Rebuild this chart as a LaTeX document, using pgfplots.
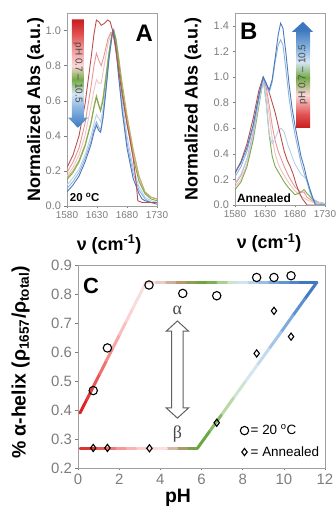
\documentclass[border=0pt]{standalone}
\usepackage{fontspec}
\setmainfont{Liberation Sans}
\newfontfamily\seriffont{Liberation Serif}
\usepackage{pgfplots}
\pgfplotsset{compat=1.18}

\definecolor{cA1}{RGB}{185,80,78}
\definecolor{cA2}{RGB}{230,150,150}
\definecolor{cA3}{RGB}{242,195,195}
\definecolor{cA4}{RGB}{190,180,95}
\definecolor{cA5}{RGB}{122,170,80}
\definecolor{cA6}{RGB}{185,208,235}
\definecolor{cA7}{RGB}{140,180,222}
\definecolor{cA8}{RGB}{75,120,185}
\definecolor{axgray}{RGB}{160,160,160}
\definecolor{tickgray}{RGB}{125,125,125}
\definecolor{txtgray}{RGB}{70,70,70}

\definecolor{sdr}{RGB}{200,30,30}
\definecolor{sr}{RGB}{225,80,80}
\definecolor{sp}{RGB}{240,150,150}
\definecolor{spp}{RGB}{250,215,215}
\definecolor{sg}{RGB}{115,170,70}
\definecolor{spb}{RGB}{215,230,245}
\definecolor{slb}{RGB}{145,187,228}
\definecolor{sb}{RGB}{60,120,190}

\pgfdeclareverticalshading{phA}{100bp}{color(0bp)=(sb); color(25bp)=(sb); color(35bp)=(slb); color(40.7bp)=(spb); color(47.2bp)=(sg); color(53.7bp)=(spp); color(61.8bp)=(sp); color(68.3bp)=(sr); color(75bp)=(sdr); color(100bp)=(sdr)}
\pgfdeclareverticalshading{phB}{100bp}{color(0bp)=(sdr); color(25bp)=(sdr); color(31.2bp)=(sr); color(40.6bp)=(spp); color(48.6bp)=(sg); color(56.1bp)=(spb); color(61.7bp)=(slb); color(71.3bp)=(sb); color(100bp)=(sb)}

\pgfplotsset{colormap={gradC}{rgb255(0cm)=(220,30,30) rgb255(12cm)=(235,90,90) rgb255(25cm)=(245,150,150) rgb255(40cm)=(252,215,215) rgb255(46cm)=(250,225,225) rgb255(55cm)=(190,150,120) rgb255(65cm)=(100,165,55) rgb255(72cm)=(200,225,185) rgb255(78cm)=(215,230,245) rgb255(86cm)=(150,190,230) rgb255(100cm)=(55,115,190)}}

\pgfplotsset{
  onemark/.style={legend image code/.code={\draw[##1] plot coordinates {(0.05cm,0cm)};}},
  myax/.style={
    scale only axis,
    axis line style={axgray},
    tick style={tickgray, thin},
    tick align=outside,
    major tick length=2.5bp,
    tick pos=left,
    /pgf/number format/assume math mode=true,
    /pgf/number format/1000 sep={},
    every tick label/.append style={text=tickgray},
  },
  specax/.style={
    myax, width=90bp,
    xmin=1580, xmax=1730,
    xtick={1580,1630,1680,1730},
    xticklabel style={font=\fontsize{10}{11}\selectfont},
    yticklabel style={font=\fontsize{11}{12}\selectfont, /pgf/number format/.cd, fixed, fixed zerofill, precision=1},
    xlabel={\textbf{ν (cm\textsuperscript{-1})}},
    ylabel={\textbf{Normalized Abs (a.u.)}},
    label style={font=\fontsize{18}{20}\selectfont},
    every axis plot/.append style={line width=0.9pt, no marks},
  }
}

\begin{document}
\begin{tikzpicture}
\useasboundingbox (0,0) rectangle (336bp,509bp);

% ---------------- Panel A
\begin{axis}[specax, at={(67bp,303bp)}, anchor=south west, height=193bp,
  ymin=0, ymax=1.1, ytick={0,0.2,0.4,0.6,0.8,1.0},
  xlabel style={at={(axis description cs:0.467,-0.2)}, anchor=center},
  ylabel style={at={(axis description cs:-0.35,0.5)}, anchor=center},
]
\addplot[cA6] coordinates {(1580,0.12) (1590,0.16) (1600,0.21) (1610,0.29) (1620,0.40) (1625,0.47) (1629,0.52) (1633,0.50) (1636,0.48) (1640,0.55) (1645,0.69) (1650,0.85) (1655,0.97) (1658,1.0) (1662,0.93) (1667,0.77) (1672,0.60) (1680,0.40) (1690,0.22) (1700,0.11) (1710,0.05) (1720,0.03) (1730,0.02)};
\addplot[cA7] coordinates {(1580,0.10) (1590,0.14) (1600,0.19) (1610,0.27) (1620,0.37) (1625,0.44) (1629,0.48) (1633,0.45) (1636,0.43) (1640,0.51) (1645,0.67) (1650,0.84) (1655,0.97) (1657,1.0) (1661,0.93) (1666,0.75) (1672,0.56) (1680,0.36) (1690,0.19) (1700,0.09) (1710,0.04) (1720,0.02) (1730,0.02)};
\addplot[cA3] coordinates {(1580,0.17) (1590,0.22) (1600,0.29) (1610,0.40) (1620,0.57) (1625,0.66) (1629,0.72) (1633,0.70) (1637,0.70) (1642,0.80) (1648,0.92) (1653,0.98) (1657,0.97) (1662,0.88) (1667,0.76) (1672,0.64) (1680,0.47) (1690,0.30) (1700,0.15) (1710,0.07) (1720,0.05) (1730,0.04)};
\addplot[cA2] coordinates {(1580,0.19) (1590,0.25) (1600,0.33) (1610,0.47) (1620,0.68) (1625,0.80) (1629,0.87) (1633,0.83) (1637,0.80) (1642,0.86) (1648,0.95) (1653,0.99) (1657,0.98) (1662,0.90) (1667,0.78) (1672,0.66) (1680,0.50) (1690,0.32) (1700,0.17) (1710,0.08) (1720,0.05) (1730,0.04)};
\addplot[cA4] coordinates {(1580,0.16) (1590,0.20) (1600,0.26) (1610,0.35) (1620,0.48) (1625,0.57) (1629,0.63) (1633,0.58) (1636,0.55) (1640,0.62) (1645,0.75) (1650,0.88) (1655,0.98) (1658,1.0) (1662,0.95) (1667,0.83) (1672,0.70) (1680,0.52) (1690,0.33) (1700,0.17) (1710,0.08) (1720,0.05) (1730,0.04)};
\addplot[cA5] coordinates {(1580,0.15) (1590,0.19) (1600,0.25) (1610,0.34) (1620,0.47) (1625,0.56) (1629,0.62) (1633,0.57) (1636,0.54) (1640,0.60) (1645,0.73) (1650,0.87) (1655,0.98) (1658,1.0) (1662,0.94) (1667,0.80) (1672,0.66) (1680,0.47) (1690,0.28) (1700,0.14) (1710,0.07) (1720,0.04) (1730,0.03)};
\addplot[cA8] coordinates {(1580,0.08) (1590,0.12) (1600,0.17) (1610,0.25) (1620,0.35) (1625,0.42) (1629,0.46) (1633,0.43) (1636,0.42) (1640,0.50) (1645,0.66) (1650,0.84) (1655,0.97) (1657,1.0) (1661,0.92) (1666,0.74) (1672,0.54) (1680,0.33) (1690,0.16) (1700,0.07) (1705,0.04) (1710,0.03) (1720,0.02) (1730,0.01)};
\addplot[cA1] coordinates {(1580,0.22) (1590,0.29) (1600,0.40) (1610,0.58) (1620,0.84) (1625,0.98) (1629,1.06) (1633,1.05) (1637,1.03) (1642,1.04) (1648,1.06) (1652,1.05) (1656,1.0) (1660,0.92) (1665,0.80) (1670,0.68) (1675,0.57) (1680,0.47) (1685,0.38) (1690,0.28) (1695,0.14) (1698,0.03) (1705,0.02) (1715,0.02) (1730,0.02)};
\shade[shading=phA] (axis cs:1588.3,1.063) -- (axis cs:1608.3,1.063) -- (axis cs:1608.3,0.503) -- (axis cs:1615,0.503) -- (axis cs:1598.3,0.446) -- (axis cs:1581.7,0.503) -- (axis cs:1588.3,0.503) -- cycle;
\node[rotate=-90, text=txtgray, font=\fontsize{10}{11}\selectfont, inner sep=0] at (axis cs:1598.3,0.76) {pH 0.7 – 10.5};
\node[anchor=north east, inner sep=0, font=\fontsize{24}{26}\selectfont\bfseries] at (rel axis cs:0.956,0.938) {A};
\node[anchor=south west, inner sep=0, font=\fontsize{11.5}{13}\selectfont\bfseries] at (rel axis cs:0.03,0.02) {20 \textsuperscript{o}C};
\end{axis}

% ---------------- Panel B
\begin{axis}[specax, at={(235bp,304bp)}, anchor=south west, height=192bp,
  ymin=0, ymax=1.5, ytick={0,0.2,0.4,0.6,0.8,1.0,1.2,1.4},
  xlabel style={at={(axis description cs:0.378,-0.2)}, anchor=center},
  ylabel style={at={(axis description cs:-0.467,0.5)}, anchor=center},
]
\addplot[cA3] coordinates {(1580,0.14) (1590,0.20) (1600,0.32) (1610,0.52) (1620,0.80) (1627,0.99) (1632,0.88) (1637,0.70) (1642,0.52) (1647,0.40) (1652,0.32) (1657,0.27) (1662,0.23) (1670,0.17) (1680,0.11) (1690,0.07) (1700,0.04) (1710,0.02) (1730,0.01)};
\addplot[cA5] coordinates {(1580,0.12) (1590,0.18) (1600,0.30) (1610,0.50) (1620,0.78) (1627,0.98) (1632,0.80) (1637,0.55) (1642,0.38) (1647,0.30) (1652,0.26) (1657,0.22) (1662,0.18) (1670,0.13) (1680,0.08) (1690,0.10) (1695,0.12) (1700,0.09) (1710,0.04) (1720,0.02) (1730,0.01)};
\addplot[cA2] coordinates {(1580,0.16) (1590,0.23) (1600,0.36) (1610,0.56) (1620,0.83) (1627,0.99) (1632,0.92) (1637,0.78) (1642,0.62) (1647,0.50) (1652,0.42) (1657,0.36) (1662,0.30) (1670,0.22) (1680,0.14) (1690,0.10) (1695,0.10) (1700,0.06) (1710,0.03) (1730,0.01)};
\addplot[cA6] coordinates {(1580,0.17) (1590,0.24) (1600,0.36) (1610,0.54) (1620,0.80) (1627,0.98) (1632,0.80) (1637,0.55) (1642,0.48) (1647,0.52) (1652,0.58) (1657,0.60) (1662,0.57) (1668,0.47) (1675,0.38) (1680,0.32) (1690,0.24) (1695,0.22) (1700,0.20) (1705,0.12) (1710,0.05) (1720,0.02) (1730,0.01)};
\addplot[cA1] coordinates {(1580,0.25) (1590,0.34) (1600,0.48) (1610,0.67) (1620,0.90) (1627,1.0) (1632,0.95) (1637,0.88) (1642,0.80) (1647,0.72) (1652,0.62) (1657,0.52) (1662,0.42) (1667,0.35) (1672,0.30) (1677,0.24) (1682,0.16) (1687,0.10) (1692,0.05) (1697,0.02) (1700,0.0) (1730,0.0)};
\addplot[cA7] coordinates {(1580,0.22) (1590,0.30) (1600,0.42) (1610,0.60) (1620,0.85) (1627,0.99) (1632,0.93) (1637,0.88) (1642,0.96) (1647,1.12) (1652,1.25) (1656,1.29) (1660,1.25) (1665,1.05) (1670,0.84) (1675,0.68) (1680,0.55) (1685,0.44) (1690,0.33) (1695,0.25) (1700,0.18) (1705,0.10) (1710,0.04) (1715,0.01) (1730,0.0)};
\addplot[cA8] coordinates {(1580,0.25) (1590,0.33) (1600,0.45) (1610,0.62) (1620,0.86) (1627,1.0) (1632,0.95) (1637,0.90) (1642,0.98) (1647,1.15) (1652,1.33) (1656,1.42) (1660,1.38) (1665,1.18) (1670,0.95) (1675,0.76) (1680,0.62) (1685,0.50) (1690,0.38) (1695,0.30) (1700,0.20) (1705,0.12) (1710,0.05) (1714,0.0) (1730,0.0)};
\shade[shading=phB] (axis cs:1681.7,0.602) -- (axis cs:1705,0.602) -- (axis cs:1705,1.353) -- (axis cs:1710,1.353) -- (axis cs:1693.3,1.431) -- (axis cs:1675,1.353) -- (axis cs:1681.7,1.353) -- cycle;
\node[rotate=90, text=txtgray, font=\fontsize{10}{11}\selectfont, inner sep=0] at (axis cs:1693.3,1.02) {pH 0.7 – 10.5};
\node[anchor=north west, inner sep=0, font=\fontsize{24}{26}\selectfont\bfseries] at (rel axis cs:0.056,0.948) {B};
\node[anchor=south west, inner sep=0, font=\fontsize{12}{14}\selectfont\bfseries] at (rel axis cs:0.02,0.01) {Annealed};
\end{axis}

% ---------------- Panel C
\begin{axis}[myax, at={(78bp,41bp)}, anchor=south west, width=247bp, height=203bp,
  xmin=0, xmax=12, ymin=0.2, ymax=0.9,
  xtick={0,2,4,6,8,10,12}, ytick={0.2,0.3,0.4,0.5,0.6,0.7,0.8,0.9},
  ticklabel style={font=\fontsize{15}{17}\selectfont},
  yticklabel style={/pgf/number format/.cd, fixed, fixed zerofill, precision=1},
  xlabel={\textbf{pH}},
  ylabel={\textbf{\% α-helix (ρ\textsubscript{1657}/ρ\textsubscript{total})}},
  label style={font=\fontsize{19.5}{21}\selectfont},
  xlabel style={at={(axis description cs:0.405,-0.148)}, anchor=center},
  ylabel style={at={(axis description cs:-0.232,0.52)}, anchor=center},
  legend style={draw=none, fill=none, at={(axis description cs:0.985,0.04)}, anchor=south east, inner sep=0pt, font=\fontsize{13.5}{15}\selectfont, row sep=6pt, cells={anchor=west}},
]
\addplot[mesh, forget plot, colormap name=gradC, point meta=explicit, point meta min=0, point meta max=100, line width=3bp, line cap=round] coordinates {
 (0.1,0.39) [0] (0.42,0.435) [3] (0.74,0.48) [8] (1.06,0.525) [14] (1.38,0.57) [20] (1.7,0.615) [26] (2.02,0.66) [32] (2.34,0.705) [37] (2.66,0.75) [41] (2.98,0.795) [44] (3.3,0.84) [45]
 (3.8,0.84) [47] (4.3,0.84) [50] (4.8,0.84) [54] (5.3,0.84) [58] (5.8,0.84) [62] (6.3,0.84) [65] (6.8,0.84) [68] (7.3,0.84) [72] (7.8,0.84) [77] (8.3,0.84) [80] (8.8,0.84) [84] (9.3,0.84) [88] (9.8,0.84) [92] (10.3,0.84) [95] (10.8,0.84) [98] (11.6,0.84) [100]
 (11.02,0.783) [97] (10.44,0.726) [92] (9.86,0.668) [87] (9.28,0.611) [82] (8.7,0.554) [79] (8.12,0.497) [76] (7.54,0.44) [73] (6.96,0.382) [69] (6.38,0.325) [66] (5.8,0.268) [65]
 (5.3,0.268) [60] (4.8,0.268) [54] (4.3,0.268) [48] (3.8,0.268) [44] (3.3,0.268) [40] (2.8,0.268) [35] (2.3,0.268) [29] (1.8,0.268) [22] (1.3,0.268) [15] (0.8,0.268) [8] (0.1,0.268) [0]
};
\draw[gray!75!black, line width=1pt, fill=white] (axis cs:4.83,0.707) -- (axis cs:5.37,0.672) -- (axis cs:5.11,0.672) -- (axis cs:5.11,0.407) -- (axis cs:5.37,0.407) -- (axis cs:4.83,0.372) -- (axis cs:4.29,0.407) -- (axis cs:4.55,0.407) -- (axis cs:4.55,0.672) -- (axis cs:4.29,0.672) -- cycle;
\node[font=\seriffont\fontsize{18}{20}\selectfont, text=txtgray] at (axis cs:4.83,0.745) {α};
\node[font=\seriffont\fontsize{18}{20}\selectfont, text=txtgray] at (axis cs:4.83,0.318) {β};
\addplot[only marks, mark=o, mark size=4.2pt, mark options={black, line width=1.1pt, fill=white}, onemark] coordinates {(0.74,0.467) (1.43,0.614) (3.45,0.831) (5.09,0.802) (6.74,0.794) (8.68,0.857) (9.52,0.857) (10.35,0.863)};
\addlegendentry{= 20 \textsuperscript{o}C}
\addplot[only marks, mark=diamond, mark size=3.6pt, mark options={black, line width=1.1pt, fill=white}, onemark] coordinates {(0.74,0.269) (1.43,0.269) (3.47,0.268) (6.74,0.356) (8.68,0.595) (9.52,0.742) (10.35,0.653)};
\addlegendentry{= Annealed}
\node[anchor=north west, inner sep=0, font=\fontsize{22}{24}\selectfont\bfseries] at (rel axis cs:0.02,0.936) {C};
\end{axis}
\end{tikzpicture}
\end{document}
